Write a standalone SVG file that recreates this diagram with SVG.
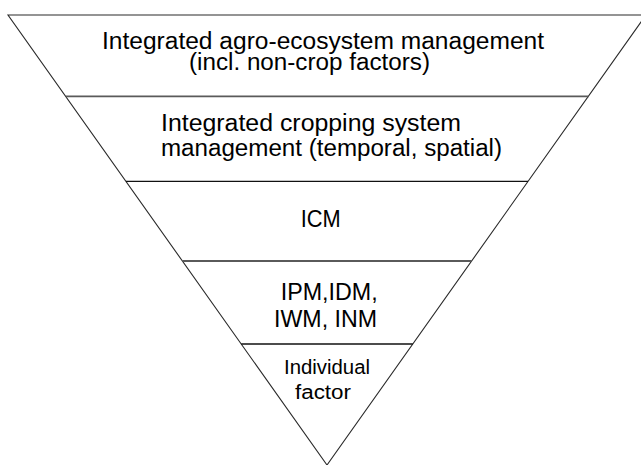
<svg xmlns="http://www.w3.org/2000/svg" width="641" height="465" viewBox="0 0 641 465">
<style>
.edge{fill:none;stroke:#2a2a2a;stroke-width:1.1}
.div-g{stroke:#5a5a5a;stroke-width:1.8}
.div-k{stroke:#111;stroke-width:1.3}
.t{font-family:"Liberation Sans",Arial,sans-serif;font-size:23.5px;fill:#000}
.s{font-family:"Liberation Sans",Arial,sans-serif;font-size:19.5px;fill:#000}
</style>
<rect x="0" y="0" width="641" height="465" fill="#fff"/>
<g id="frame">
<polygon class="edge" points="8,15 646,15 327,465"/>
</g>
<g id="connectors">
<line class="div-g" x1="66" y1="96.3" x2="588.6" y2="96.3"/>
<line class="div-k" x1="126" y1="181.4" x2="528" y2="181.4"/>
<line class="div-g" x1="182.4" y1="261" x2="471.6" y2="261"/>
<line class="div-k" x1="241.2" y1="344" x2="412.8" y2="344"/>
</g>
<g id="layer1">
<text class="t" x="102" y="49" textLength="442" lengthAdjust="spacingAndGlyphs">Integrated agro-ecosystem management</text>
<text class="t" x="189" y="70" textLength="241" lengthAdjust="spacingAndGlyphs">(incl. non-crop factors)</text>
</g>
<g id="layer2">
<text class="t" x="161" y="130.5" textLength="300" lengthAdjust="spacingAndGlyphs">Integrated cropping system</text>
<text class="t" x="161" y="155.5" textLength="341" lengthAdjust="spacingAndGlyphs">management (temporal, spatial)</text>
</g>
<g id="layer3">
<text class="t" x="300.7" y="226.7" textLength="40" lengthAdjust="spacingAndGlyphs">ICM</text>
</g>
<g id="layer4">
<text class="t" x="280.7" y="300" textLength="97" lengthAdjust="spacingAndGlyphs">IPM,IDM,</text>
<text class="t" x="274" y="326.7" textLength="103" lengthAdjust="spacingAndGlyphs">IWM, INM</text>
</g>
<g id="layer5">
<text class="s" x="284" y="374" textLength="86" lengthAdjust="spacingAndGlyphs">Individual</text>
<text class="s" x="295" y="398.5" textLength="56" lengthAdjust="spacingAndGlyphs">factor</text>
</g>
</svg>
